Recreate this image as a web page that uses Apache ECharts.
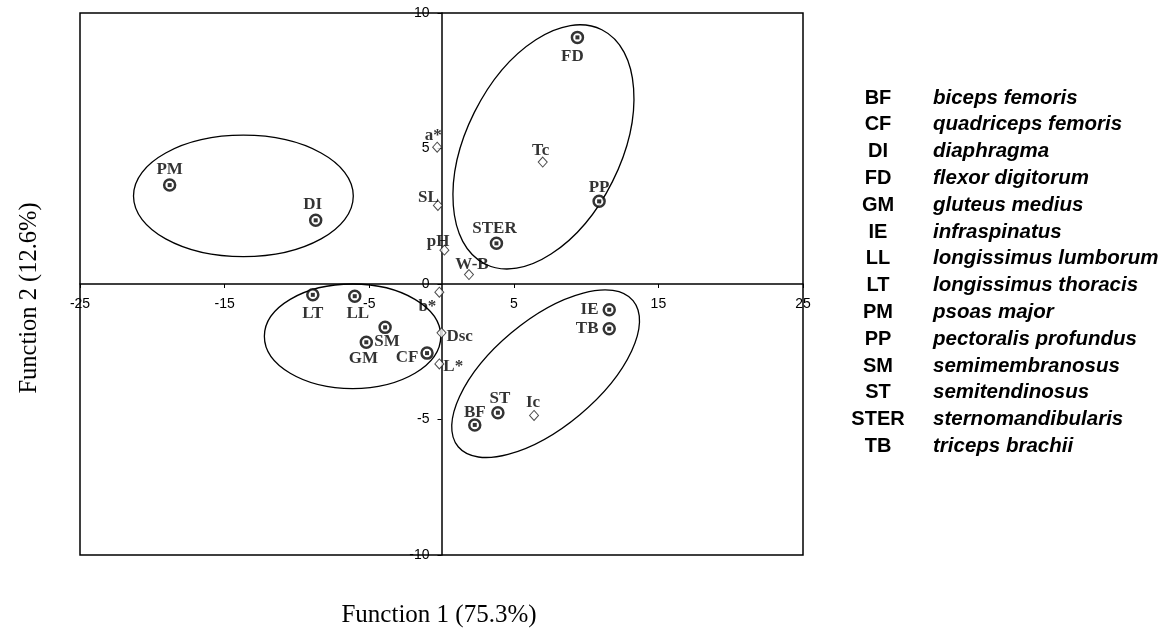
<!DOCTYPE html>
<html>
<head>
<meta charset="utf-8">
<script src="https://cdn.jsdelivr.net/npm/echarts@6/dist/echarts.min.js"></script>
<style>html,body{margin:0;padding:0;background:#fff;}#chart{width:1168px;height:628px;}</style>
</head>
<body>
<div id="chart"></div>
<script>
// ---- data ----
const muscleNames = ['PM','DI','FD','PP','STER','LT','LL','SM','GM','CF','IE','TB','ST','BF'];
const muscleF1 = [-18.8,-8.7,9.4,10.9,3.8,-8.9,-6.0,-3.9,-5.2,-1.0,11.6,11.6,3.9,2.3];
const muscleF2 = [3.65,2.35,9.1,3.05,1.5,-0.4,-0.45,-1.6,-2.15,-2.55,-0.95,-1.65,-4.75,-5.2];

const varNames = ['a*','SL','pH','W-B','Tc','b*','Dsc','L*','Ic'];
const varF1 = [-0.3,-0.25,0.2,1.9,7.0,-0.15,0.0,-0.15,6.4];
const varF2 = [5.05,2.9,1.25,0.35,4.5,-0.3,-1.8,-2.95,-4.85];

// group ellipses: centre F1, centre F2, semi-axis (F1 units), semi-axis (F2 units), tilt in degrees
const ellipseCx = [-13.7,-6.15,7.05,7.2];
const ellipseCy = [3.25,-1.93,5.06,-3.31];
const ellipseRx = [7.6,6.1,9.05,7.88];
const ellipseRy = [2.24,1.93,2.85,1.97];
const ellipseTilt = [0,0,63.5,39.9];

const xTicks = {min:-25,max:25,interval:10};
const yTicks = {min:-10,max:10,interval:5};
const xTitle = 'Function 1 (75.3%)';
const yTitle = 'Function 2 (12.6%)';

const legendAbbr = ['BF','CF','DI','FD','GM','IE','LL','LT','PM','PP','SM','ST','STER','TB'];
const legendFull = ['biceps femoris','quadriceps femoris','diaphragma','flexor digitorum','gluteus medius','infraspinatus','longissimus lumborum','longissimus thoracis','psoas major','pectoralis profundus','semimembranosus','semitendinosus','sternomandibularis','triceps brachii'];

// ---- layout / styling ----
const GRID = {left:80, top:13, width:723, height:542};

const labelPlace = {
  PM:['top',[0,2]], DI:['top',[-3,2]], FD:['bottom',[-5,2]], PP:['top',[0,4]], STER:['top',[-2,3]],
  LT:['bottom',[0,2]], LL:['bottom',[3,0]], SM:['bottom',[2,-3]], GM:['bottom',[-3,-1]], CF:['left',[0,5]],
  IE:['left',[-2,0]], TB:['left',[-2,0]], ST:['top',[2,3]], BF:['top',[0,5]],
  'a*':['top',[-4,4]], SL:['left',[8,-8]], pH:['left',[12,-9]], 'W-B':['top',[3,6]], Tc:['top',[-2,5]],
  'b*':['left',[4,14]], Dsc:['right',[-2,4]], 'L*':['right',[-3,3]], Ic:['top',[-1,3]]
};

const serifBold = {fontFamily:'Liberation Serif', fontWeight:'bold', fontSize:17, color:'#000'};

function labeled(names, xs, ys){
  return names.map((n,i)=>({
    name:n, value:[xs[i], ys[i]],
    label:{show:true, formatter:n, position:labelPlace[n][0], offset:labelPlace[n][1], distance:2, ...serifBold}
  }));
}

// place axes through the origin (pixel offsets from the grid edges)
const xZeroFrac = (0 - xTicks.min) / (xTicks.max - xTicks.min);
const yZeroFrac = (0 - yTicks.min) / (yTicks.max - yTicks.min);
const xAxisOffset = -GRID.height * yZeroFrac;
const yAxisOffset = -GRID.width * xZeroFrac;

const chart = echarts.init(document.getElementById('chart'), null, {renderer:'canvas'});

const graphics = [];
graphics.push({
  type:'text', x:439, y:615, style:{text:xTitle, font:'25px "Liberation Serif"', fill:'#000', textAlign:'center', textVerticalAlign:'middle'}
});
graphics.push({
  type:'text', x:30, y:298, rotation:Math.PI/2, style:{text:yTitle, font:'24.5px "Liberation Serif"', fill:'#000', textAlign:'center', textVerticalAlign:'middle'}
});
legendAbbr.forEach((a,i)=>{
  const y = 98 + i*26.8;
  graphics.push({type:'text', x:878, y:y, style:{text:a, font:'bold 20px "Liberation Sans"', fill:'#000', textAlign:'center', textVerticalAlign:'middle'}});
  graphics.push({type:'text', x:933, y:y, style:{text:legendFull[i], font:'italic bold 20.5px "Liberation Sans"', fill:'#000', textAlign:'left', textVerticalAlign:'middle'}});
});

const axisCommon = {
  type:'value',
  axisTick:{show:true, length:4, lineStyle:{color:'#000', width:1}},
  splitLine:{show:false}
};

chart.setOption({
  animation:false,
  backgroundColor:'#fff',
  grid:{...GRID, show:true, borderColor:'#000', borderWidth:1.5},
  xAxis:{...axisCommon, position:'bottom', offset:xAxisOffset,
    axisLine:{onZero:false, lineStyle:{color:'#000', width:1.5}},
    axisLabel:{color:'#000', fontFamily:'Liberation Sans', fontSize:14, margin:13},
    min:xTicks.min, max:xTicks.max, interval:xTicks.interval},
  yAxis:{...axisCommon, position:'left', offset:yAxisOffset,
    axisLine:{onZero:false, lineStyle:{color:'#000', width:1.5}},
    axisLabel:{color:'#000', fontFamily:'Liberation Sans', fontSize:14, margin:12},
    min:yTicks.min, max:yTicks.max, interval:yTicks.interval},
  graphic:graphics,
  series:[
    {
      type:'custom',
      coordinateSystem:'cartesian2d',
      silent:true,
      clip:false,
      data:ellipseCx.map((c,i)=>[c, ellipseCy[i], ellipseRx[i], ellipseRy[i], ellipseTilt[i]]),
      encode:{x:0, y:1},
      renderItem:function(params, api){
        const c = api.coord([api.value(0), api.value(1)]);
        const s = api.size([api.value(2), api.value(3)]);
        return {
          type:'ellipse',
          x:c[0], y:c[1],
          rotation:api.value(4)*Math.PI/180,
          shape:{cx:0, cy:0, rx:s[0], ry:s[1]},
          style:{fill:'none', stroke:'#000', lineWidth:1.3}
        };
      },
      z:1
    },
    {
      type:'scatter',
      data:labeled(varNames, varF1, varF2),
      symbol:'diamond', symbolSize:[9,10],
      itemStyle:{color:'#fff', borderColor:'#222', borderWidth:1},
      z:3
    },
    {
      type:'scatter',
      data:labeled(muscleNames, muscleF1, muscleF2),
      symbol:'circle', symbolSize:11,
      itemStyle:{color:'#fff', borderColor:'#000', borderWidth:2.5},
      z:3
    },
    {
      type:'scatter',
      data:muscleF1.map((x,i)=>[x, muscleF2[i]]),
      symbol:'rect', symbolSize:4,
      itemStyle:{color:'#000'},
      silent:true,
      z:4
    }
  ]
});
</script>
</body>
</html>
